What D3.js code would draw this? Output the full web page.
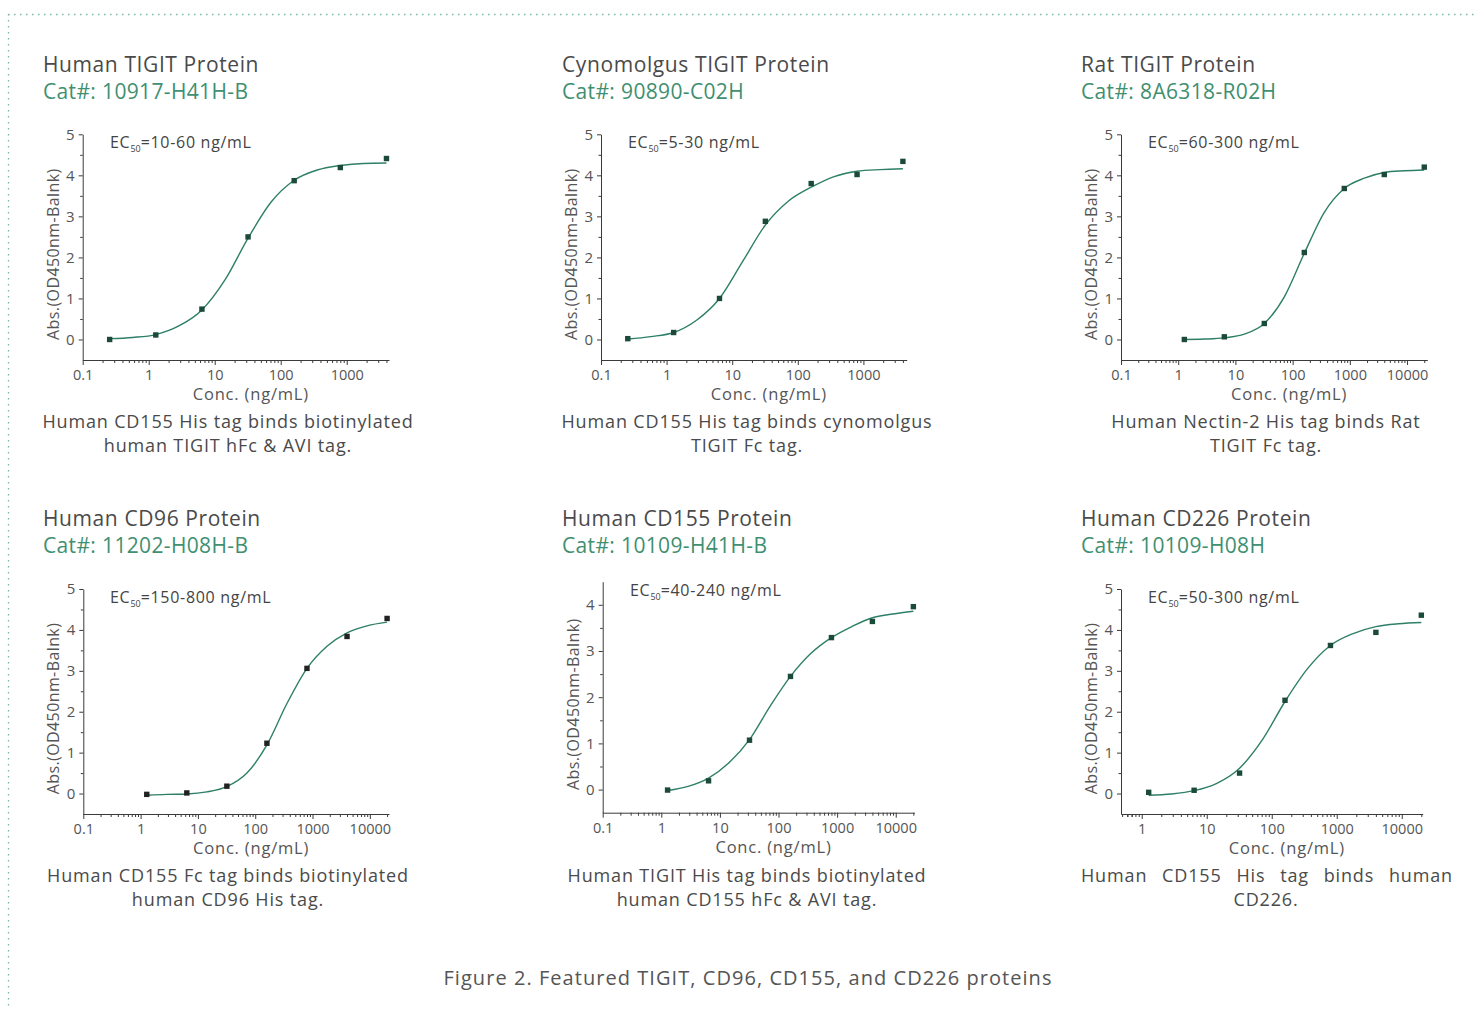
<!DOCTYPE html>
<html>
<head>
<meta charset="utf-8">
<script src="https://cdn.jsdelivr.net/npm/d3@7"></script>
<style>
    body { margin: 0; background: #fff; }
    svg text { font-family: "Open Sans", "DejaVu Sans", sans-serif; }
</style>
</head>
<body>
<svg id="chart" width="1475" height="1010"></svg>
<script>
// concentrations (5-fold dilutions, ng/mL)
const concShort = [0.256, 1.28, 6.4, 32, 160, 800, 4000];
const concLong = [1.28, 6.4, 32, 160, 800, 4000, 20000];

const fitConcShort = [0.256, 0.572, 1.28, 2.86, 6.4, 14.3, 32, 71.6, 160, 358, 800, 1789, 4000];
const fitConcLong = [1.28, 2.86, 6.4, 14.3, 32, 71.6, 160, 358, 800, 1789, 4000, 8944, 20000];

// measured points
const humanTigitAbs = [0.0, 0.11, 0.74, 2.50, 3.87, 4.19, 4.41];
const cynoTigitAbs = [0.02, 0.17, 1.0, 2.88, 3.80, 4.02, 4.34];
const ratTigitAbs = [0.0, 0.065, 0.39, 2.12, 3.68, 4.02, 4.20];
const cd96Abs = [-0.02, 0.015, 0.18, 1.23, 3.06, 3.84, 4.28];
const cd155Abs = [-0.01, 0.19, 1.07, 2.45, 3.29, 3.64, 3.96];
const cd226Abs = [0.03, 0.08, 0.50, 2.28, 3.62, 3.94, 4.36];

// fitted curves
const humanTigitFit = [0.02, 0.05, 0.12, 0.33, 0.72, 1.45, 2.47, 3.35, 3.88, 4.13, 4.24, 4.29, 4.30];
const cynoTigitFit = [0.01, 0.07, 0.17, 0.47, 1.0, 1.89, 2.79, 3.37, 3.71, 3.97, 4.1, 4.14, 4.16];
const ratTigitFit = [0.0, 0.01, 0.04, 0.13, 0.39, 1.04, 2.1, 3.1, 3.68, 3.93, 4.07, 4.11, 4.13];
const cd96Fit = [-0.04, -0.02, -0.01, 0.04, 0.17, 0.5, 1.19, 2.2, 3.06, 3.6, 3.93, 4.1, 4.19];
const cd155Fit = [-0.02, 0.07, 0.25, 0.58, 1.08, 1.8, 2.45, 2.95, 3.29, 3.53, 3.72, 3.8, 3.86];
const cd226Fit = [-0.04, -0.01, 0.07, 0.25, 0.62, 1.31, 2.25, 3.06, 3.62, 3.91, 4.08, 4.15, 4.18];

// texts
const titles = ["Human TIGIT Protein", "Cynomolgus TIGIT Protein", "Rat TIGIT Protein",
                "Human CD96 Protein", "Human CD155 Protein", "Human CD226 Protein"];
const catNumbers = ["Cat#: 10917-H41H-B", "Cat#: 90890-C02H", "Cat#: 8A6318-R02H",
                    "Cat#: 11202-H08H-B", "Cat#: 10109-H41H-B", "Cat#: 10109-H08H"];
const ec50Ranges = ["=10-60 ng/mL", "=5-30 ng/mL", "=60-300 ng/mL",
                    "=150-800 ng/mL", "=40-240 ng/mL", "=50-300 ng/mL"];
const captions = [
    ["Human CD155 His tag binds biotinylated", "human TIGIT hFc & AVI tag."],
    ["Human CD155 His tag binds cynomolgus", "TIGIT Fc tag."],
    ["Human Nectin-2 His tag binds Rat", "TIGIT Fc tag."],
    ["Human CD155 Fc tag binds biotinylated", "human CD96 His tag."],
    ["Human TIGIT His tag binds biotinylated", "human CD155 hFc & AVI tag."],
    ["Human CD155 His tag binds human", "CD226."]
];
const xTickValues = [0.1, 1, 10, 100, 1000, 10000];
const figureCaption = "Figure 2. Featured TIGIT, CD96, CD155, and CD226 proteins";

const colTitle = "#4a4a4a",
      colCat = "#3f8f70",
      colCurve = "#2e7f68",
      colPoint = "#1b4a39",
      colAxis = "#3a3a3a",
      colTick = "#555";

// layout of each panel
const panels = [
    {tx: 43,   ty: 72,  left: 82.7,  right: 389,    top: 134.3, bottom: 360, xMax: 4370,  xMin: 0.1,  yMax: 5,
     conc: concShort, abs: humanTigitAbs, fitConc: fitConcShort, fit: humanTigitFit, pt: colPoint, ecx: 110, ecy: 148},
    {tx: 562,  ty: 72,  left: 601,   right: 906.7,  top: 134.3, bottom: 360, xMax: 4570,  xMin: 0.1,  yMax: 5,
     conc: concShort, abs: cynoTigitAbs, fitConc: fitConcShort, fit: cynoTigitFit, pt: colPoint, ecx: 628, ecy: 148},
    {tx: 1081, ty: 72,  left: 1121,  right: 1427.3, top: 134.3, bottom: 360, xMax: 22600, xMin: 0.1,  yMax: 5,
     conc: concLong, abs: ratTigitAbs, fitConc: fitConcLong, fit: ratTigitFit, pt: colPoint, ecx: 1148, ecy: 148},
    {tx: 43,   ty: 526, left: 83.3,  right: 389,    top: 589,   bottom: 814, xMax: 21600, xMin: 0.1,  yMax: 5,
     conc: concLong, abs: cd96Abs, fitConc: fitConcLong, fit: cd96Fit, pt: "#222", ecx: 110, ecy: 603},
    {tx: 562,  ty: 526, left: 602.7, right: 914.3,  top: 581.7, bottom: 812.7, xMax: 20750, xMin: 0.1, yMax: 4.5,
     conc: concLong, abs: cd155Abs, fitConc: fitConcLong, fit: cd155Fit, pt: colPoint, ecx: 630, ecy: 596},
    {tx: 1081, ty: 526, left: 1121,  right: 1422.7, top: 589,   bottom: 814, xMax: 21000, xMin: 0.48, yMax: 5,
     conc: concLong, abs: cd226Abs, fitConc: fitConcLong, fit: cd226Fit, pt: colPoint, ecx: 1148, ecy: 603, justify: true}
];

let svg = d3.select("#chart");

// dotted frame on top and left
svg.append("line")
    .attr("x1", 8).attr("x2", 1475).attr("y1", 14.5).attr("y2", 14.5)
    .attr("stroke", "#7db89c").attr("stroke-width", 1.3)
    .attr("stroke-dasharray", "1.5,4.5");
svg.append("line")
    .attr("x1", 8.5).attr("x2", 8.5).attr("y1", 14).attr("y2", 1010)
    .attr("stroke", "#7db89c").attr("stroke-width", 1.3)
    .attr("stroke-dasharray", "1.5,4.5");


function drawPanel(p, i) {
    /**
     * Draw one binding curve panel with its titles and caption
     *
     * @param {object} p - layout and data of the panel
     * @param {number} i - index into the text arrays
     */
    let g = svg.append("g");

    g.append("text")
        .attr("x", p.tx).attr("y", p.ty)
        .attr("fill", colTitle)
        .style("font-size", "21px")
        .style("letter-spacing", "0.6px")
        .text(titles[i]);

    g.append("text")
        .attr("x", p.tx).attr("y", p.ty + 27)
        .attr("fill", colCat)
        .style("font-size", "21px")
        .style("letter-spacing", "0.35px")
        .text(catNumbers[i]);

    let x = d3.scaleLog()
        .domain([p.xMin, p.xMax])
        .range([p.left, p.right]);

    let y = d3.scaleLinear()
        .domain([-0.5, p.yMax])
        .range([p.bottom, p.top]);

    // x axis with log minor ticks
    let majors = xTickValues.filter(v => v >= p.xMin && v <= p.xMax);
    let minors = [];
    xTickValues.forEach(function (d) {
        for (let k = 2; k <= 9; k++) {
            let v = d * k;
            if (v >= p.xMin && v <= p.xMax) minors.push(v);
        }
    });
    if (p.xMin > 0.1) {
        for (let k = 5; k <= 9; k++) {
            let v = k / 10;
            if (v >= p.xMin && minors.indexOf(v) < 0) minors.push(v);
        }
    }

    g.append("g")
        .attr("transform", "translate(0," + p.bottom + ")")
        .call(d3.axisBottom(x).tickValues(minors).tickSize(3).tickFormat(""))
        .call(a => a.select(".domain").remove())
        .call(a => a.selectAll("line").attr("stroke", colAxis));

    g.append("g")
        .attr("transform", "translate(0," + p.bottom + ")")
        .call(d3.axisBottom(x).tickValues(majors).tickSize(5).tickSizeOuter(0).tickPadding(5)
            .tickFormat(d3.format("~g")))
        .call(a => a.select(".domain").attr("stroke", colAxis))
        .call(a => a.selectAll("line").attr("stroke", colAxis))
        .call(a => a.selectAll("text")
            .attr("fill", colTick)
            .style("font-size", "14.5px")
            .style("font-family", "'Open Sans', sans-serif"));

    // y axis with half-unit minor ticks
    let yMajors = d3.range(0, p.yMax + 0.01, 1).filter(v => v <= p.yMax);
    let yMinors = d3.range(0.5, p.yMax, 1);

    g.append("g")
        .attr("transform", "translate(" + p.left + ",0)")
        .call(d3.axisLeft(y).tickValues(yMinors).tickSize(2.5).tickFormat(""))
        .call(a => a.select(".domain").remove())
        .call(a => a.selectAll("line").attr("stroke", colAxis));

    g.append("g")
        .attr("transform", "translate(" + p.left + ",0)")
        .call(d3.axisLeft(y).tickValues(yMajors).tickSize(4).tickSizeOuter(0).tickPadding(4)
            .tickFormat(d3.format("d")))
        .call(a => a.select(".domain").attr("stroke", colAxis))
        .call(a => a.selectAll("line").attr("stroke", colAxis))
        .call(a => a.selectAll("text")
            .attr("fill", colTick)
            .style("font-size", "15px")
            .style("font-family", "'Open Sans', sans-serif"));

    // axis titles
    g.append("text")
        .attr("transform", "translate(" + (p.left - 24) + "," + ((p.top + p.bottom) / 2 + 7) + ") rotate(-90)")
        .attr("text-anchor", "middle")
        .attr("fill", colTick)
        .style("font-size", "16px")
        .style("letter-spacing", "0.4px")
        .text("Abs.(OD450nm-Balnk)");

    g.append("text")
        .attr("x", (p.left + p.right) / 2 + 15)
        .attr("y", p.bottom + 40)
        .attr("text-anchor", "middle")
        .attr("fill", colTick)
        .style("font-size", "16.5px")
        .style("letter-spacing", "0.8px")
        .text("Conc. (ng/mL)");

    // EC50 label
    let ec = g.append("text")
        .attr("x", p.ecx).attr("y", p.ecy)
        .attr("fill", "#444")
        .style("font-size", "16px")
        .style("letter-spacing", "0.7px");
    ec.append("tspan").text("EC");
    ec.append("tspan").attr("dy", 4).style("font-size", "9px").style("letter-spacing", "0px").text("50");
    ec.append("tspan").attr("dy", -4).text(ec50Ranges[i]);

    // fitted curve
    let line = d3.line()
        .x(function (d) { return x(d[0]); })
        .y(function (d) { return y(d[1]); })
        .curve(d3.curveMonotoneX);

    g.append("path")
        .datum(d3.zip(p.fitConc, p.fit))
        .attr("fill", "none")
        .attr("stroke", colCurve)
        .attr("stroke-width", 1.4)
        .attr("d", line);

    // measured points
    g.selectAll("rect.pt")
        .data(d3.zip(p.conc, p.abs))
        .enter().append("rect")
        .attr("class", "pt")
        .attr("x", d => x(d[0]) - 2.7)
        .attr("y", d => y(d[1]) - 2.7)
        .attr("width", 5.4)
        .attr("height", 5.4)
        .attr("fill", p.pt);

    // caption under the panel
    let cx = p.tx + 185;
    if (p.justify) {
        // justified line: spread the words over the full width
        let words = captions[i][0].split(" ");
        let ws = words.map(w => g.append("text")
            .attr("y", p.ty + 356)
            .attr("fill", colTitle)
            .style("font-size", "18px")
            .style("letter-spacing", "0.85px")
            .text(w));
        let widths = ws.map(t => t.node().getComputedTextLength());
        let gap = (372 - d3.sum(widths)) / (words.length - 1);
        let pos = p.tx;
        ws.forEach(function (t, k) {
            t.attr("x", pos);
            pos += widths[k] + gap;
        });
    } else {
        g.append("text")
            .attr("x", cx)
            .attr("y", p.ty + 356)
            .attr("text-anchor", "middle")
            .attr("fill", colTitle)
            .style("font-size", "18px")
            .style("letter-spacing", "0.85px")
            .text(captions[i][0]);
    }

    g.append("text")
        .attr("x", cx)
        .attr("y", p.ty + 380)
        .attr("text-anchor", "middle")
        .attr("fill", colTitle)
        .style("font-size", "18px")
        .style("letter-spacing", "0.85px")
        .text(captions[i][1]);
}

panels.forEach(drawPanel);

svg.append("text")
    .attr("x", 748)
    .attr("y", 985)
    .attr("text-anchor", "middle")
    .attr("fill", "#555")
    .style("font-size", "20px")
    .style("letter-spacing", "1.05px")
    .text(figureCaption);
</script>
</body>
</html>
